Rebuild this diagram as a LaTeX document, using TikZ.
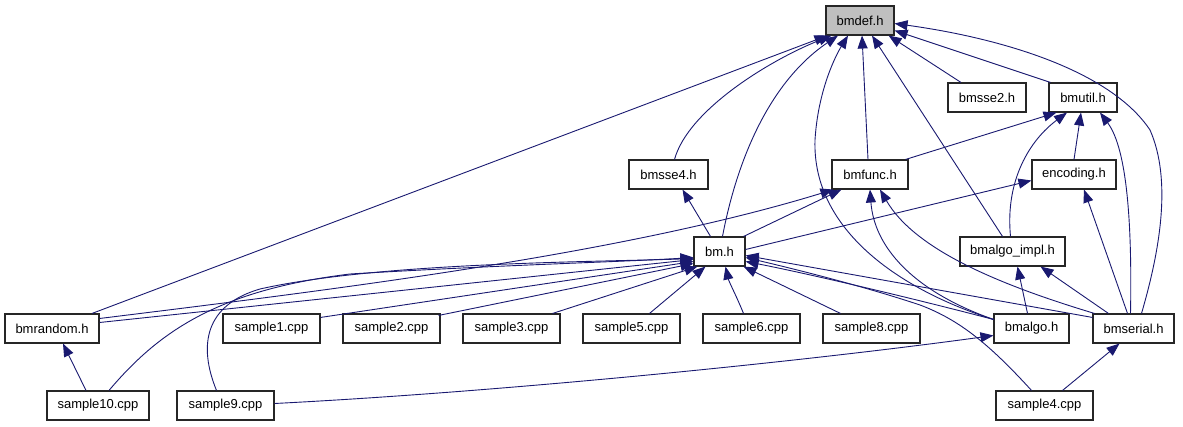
\documentclass[tikz,border=0pt]{standalone}
\usepackage{fontspec}
\setmainfont{Liberation Sans}
\usetikzlibrary{calc,arrows.meta}
\definecolor{edgeblue}{RGB}{25,25,112}
\definecolor{boxgray}{RGB}{191,191,191}
\tikzset{
  filebox/.style={draw=black!85, line width=1.1pt, fill=white, minimum height=29pt, inner sep=0pt, font=\fontsize{13}{15}\selectfont},
  rootbox/.style={filebox, fill=boxgray},
  edge/.style={draw=edgeblue, line width=0.9pt, -{Triangle[length=13pt,width=10pt]}}
}
\begin{document}
\begin{tikzpicture}[x=1pt,y=-1pt]
\useasboundingbox (0,0) rectangle (1183,427);
% nodes
\node[rootbox, minimum width=68pt] (bmdef) at (860,20.5) {bmdef.h};
\node[filebox, minimum width=78pt] (bmsse2) at (987,97.5) {bmsse2.h};
\node[filebox, minimum width=68pt] (bmutil) at (1083,97.5) {bmutil.h};
\node[filebox, minimum width=79pt] (bmsse4) at (668.5,174.5) {bmsse4.h};
\node[filebox, minimum width=76pt] (bmfunc) at (870,174.5) {bmfunc.h};
\node[filebox, minimum width=84pt] (encoding) at (1074,174.5) {encoding.h};
\node[filebox, minimum width=51pt] (bm) at (719.5,251.5) {bm.h};
\node[filebox, minimum width=105pt] (bmalgoimpl) at (1012.5,251.5) {bmalgo\_impl.h};
\node[filebox, minimum width=94pt] (bmrandom) at (52,328.5) {bmrandom.h};
\node[filebox, minimum width=97pt] (s1) at (271.5,328.5) {sample1.cpp};
\node[filebox, minimum width=97pt] (s2) at (391.5,328.5) {sample2.cpp};
\node[filebox, minimum width=97pt] (s3) at (511.5,328.5) {sample3.cpp};
\node[filebox, minimum width=97pt] (s5) at (631.5,328.5) {sample5.cpp};
\node[filebox, minimum width=97pt] (s6) at (751.5,328.5) {sample6.cpp};
\node[filebox, minimum width=97pt] (s8) at (871.5,328.5) {sample8.cpp};
\node[filebox, minimum width=75pt] (bmalgo) at (1031.5,328.5) {bmalgo.h};
\node[filebox, minimum width=81pt] (bmserial) at (1133.5,328.5) {bmserial.h};
\node[filebox, minimum width=102pt] (s10) at (98,405.5) {sample10.cpp};
\node[filebox, minimum width=97pt] (s9) at (225.5,405.5) {sample9.cpp};
\node[filebox, minimum width=97pt] (s4) at (1044.5,405.5) {sample4.cpp};
% edges into bmdef.h
\draw[edge] ($(bmrandom.north)+(40,0)$) -- ($(bmdef.south west)+(2,0)$);
\draw[edge] ($(bmsse4.north)+(6,0)$) .. controls (688,110) and (770,60) .. ($(bmdef.south west)+(6,0)$);
\draw[edge] ($(bm.north)+(3,0)$) .. controls (735,170) and (765,85) .. ($(bmdef.south)+(-22,0)$);
\draw[edge] ($(bmalgo.north west)+(0,6)$) .. controls (900,290) and (812,230) .. (815,140) .. controls (818,90) and (836,55) .. ($(bmdef.south)+(-12,0)$);
\draw[edge] ($(bmfunc.north)+(-2,0)$) -- ($(bmdef.south)+(2,0)$);
\draw[edge] ($(bmalgoimpl.north)+(-10,0)$) -- ($(bmdef.south)+(12,0)$);
\draw[edge] ($(bmsse2.north)+(-26,0)$) -- ($(bmdef.south east)+(-6,0)$);
\draw[edge] ($(bmutil.north west)+(2,0)$) -- ($(bmdef.east)+(0,10)$);
\draw[edge] ($(bmserial.north)+(8,0)$) .. controls (1160,250) and (1172,180) .. (1150,130) .. controls (1110,70) and (1000,38) .. ($(bmdef.east)+(0,3)$);
% edges into bmutil.h
\draw[edge] ($(bmfunc.north east)+(-3,0)$) -- ($(bmutil.south west)+(8,0)$);
\draw[edge] ($(bmalgoimpl.north)+(-2,0)$) .. controls (1005,180) and (1030,140) .. ($(bmutil.south)+(-16,0)$);
\draw[edge] (encoding.north) -- ($(bmutil.south)+(-2,0)$);
\draw[edge] ($(bmserial.north)+(-3,0)$) .. controls (1132,230) and (1128,150) .. ($(bmutil.south)+(17,0)$);
% edge into bmsse4.h
\draw[edge] ($(bm.north)+(-9,0)$) -- ($(bmsse4.south)+(14,0)$);
% edges into bmfunc.h
\draw[edge] ($(bmrandom.east)+(0,-10)$) .. controls (330,290) and (620,255) .. ($(bmfunc.south west)+(2,0)$);
\draw[edge] ($(bm.north east)+(-2,0)$) -- ($(bmfunc.south west)+(10,0)$);
\draw[edge] ($(bmalgo.north west)+(0,6)$) .. controls (910,290) and (874,245) .. (bmfunc.south);
\draw[edge] ($(bmserial.north west)+(2,0)$) .. controls (1000,285) and (915,250) .. ($(bmfunc.south)+(10,0)$);
% edges into encoding.h
\draw[edge] ($(bm.east)+(0,-2)$) -- ($(encoding.west)+(0,6)$);
\draw[edge] ($(bmserial.north)+(-6,0)$) -- ($(encoding.south)+(10,0)$);
% edges into bmalgo_impl.h
\draw[edge] ($(bmalgo.north)+(-4,0)$) -- ($(bmalgoimpl.south)+(5,0)$);
\draw[edge] ($(bmserial.north west)+(16,0)$) -- ($(bmalgoimpl.south)+(28,0)$);
% edges into bmalgo.h, bmserial.h, bmrandom.h
\draw[edge] ($(s9.east)+(0,-2)$) .. controls (500,392) and (800,362) .. ($(bmalgo.west)+(0,7)$);
\draw[edge] ($(s4.north)+(18,0)$) -- ($(bmserial.south)+(-14,0)$);
\draw[edge] ($(s10.north)+(-12,0)$) -- ($(bmrandom.south)+(11,0)$);
% edges into bm.h
\draw[edge] ($(s4.north)+(-13,0)$) .. controls (990,345) and (960,320) .. (920,305) .. controls (860,285) and (790,268) .. ($(bm.east)+(0,6)$);
\draw[edge] ($(s10.north)+(11,0)$) .. controls (160,330) and (220,290) .. (350,274) .. controls (500,265) and (620,262) .. ($(bm.west)+(0,6)$);
\draw[edge] ($(s9.north)+(-9,0)$) .. controls (198,345) and (205,305) .. (260,289) .. controls (380,262) and (600,262) .. ($(bm.west)+(0,7)$);
\draw[edge] ($(bmrandom.east)+(0,-6)$) -- ($(bm.west)+(0,8)$);
\draw[edge] ($(s1.north east)+(0,4)$) -- ($(bm.west)+(0,10)$);
\draw[edge] ($(s2.north east)+(-2,2)$) -- ($(bm.west)+(0,12)$);
\draw[edge] ($(s3.north east)+(-8,0)$) -- ($(bm.south west)+(4,0)$);
\draw[edge] ($(s5.north)+(18,0)$) -- ($(bm.south)+(-14,0)$);
\draw[edge] ($(s6.north)+(-8,0)$) .. controls (736,295) and (729,282) .. ($(bm.south)+(6,0)$);
\draw[edge] ($(s8.north)+(-31,0)$) -- ($(bm.south east)+(-2,0)$);
\draw[edge] ($(bmalgo.north west)+(0,6)$) .. controls (900,295) and (800,272) .. ($(bm.east)+(0,10)$);
\draw[edge] ($(bmserial.north west)+(0,4)$) -- ($(bm.east)+(0,4)$);
\end{tikzpicture}
\end{document}
